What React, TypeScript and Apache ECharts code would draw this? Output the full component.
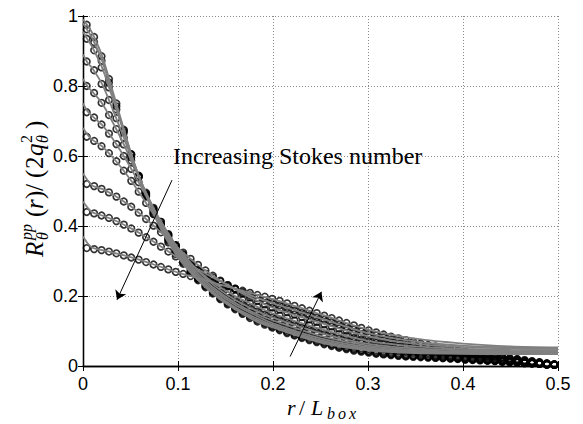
import React, { useEffect, useRef } from "react";
import * as echarts from "echarts";

// bin centres r/L_box of the measured correlation (64 bins)
const rBins = Array.from({ length: 64 }, (_, i) => (i + 0.5) / 128);
// abscissae of the fitted curves
const fitR = [0, 0.005, 0.01, 0.02, 0.03, 0.04, 0.05, 0.06, 0.08, 0.1, 0.12, 0.14, 0.16, 0.18, 0.2, 0.25, 0.3, 0.35, 0.4, 0.45, 0.5];

const xTicks = [0, 0.1, 0.2, 0.3, 0.4, 0.5];
const yTicks = [0, 0.2, 0.4, 0.6, 0.8, 1];

// measured data (circles), lowest Stokes number first
const circlesSt1 = [0.975, 0.94, 0.885, 0.82, 0.75, 0.675, 0.605, 0.54, 0.485, 0.435, 0.392, 0.353, 0.32, 0.292, 0.267, 0.245, 0.225, 0.207, 0.191, 0.176, 0.162, 0.149, 0.137, 0.127, 0.118,
  0.110, 0.102, 0.094, 0.087, 0.080, 0.074, 0.068, 0.062, 0.057, 0.052, 0.048, 0.044, 0.041, 0.038, 0.035, 0.033, 0.031, 0.029, 0.027, 0.026, 0.025, 0.024, 0.023, 0.022, 0.021, 0.020, 0.018, 0.017, 0.016, 0.015, 0.014, 0.012, 0.011, 0.010, 0.008, 0.007, 0.006, 0.004, 0.003];
const circlesSt2 = [0.962, 0.925, 0.872, 0.81, 0.742, 0.672, 0.605, 0.543, 0.488, 0.44, 0.397, 0.358, 0.325, 0.296, 0.27, 0.248, 0.228, 0.21, 0.194, 0.179, 0.165, 0.152, 0.141, 0.131, 0.122,
  0.113, 0.105, 0.097, 0.090, 0.083, 0.077, 0.071, 0.065, 0.060, 0.055, 0.051, 0.047, 0.044, 0.041, 0.037, 0.035, 0.033, 0.031, 0.029, 0.028, 0.027, 0.025, 0.024, 0.023, 0.022, 0.021, 0.019, 0.018, 0.017, 0.016, 0.015, 0.013, 0.011, 0.010, 0.008, 0.007, 0.006, 0.004, 0.003];
const circlesSt3 = [0.935, 0.902, 0.853, 0.796, 0.733, 0.667, 0.603, 0.544, 0.49, 0.443, 0.401, 0.363, 0.33, 0.30, 0.274, 0.251, 0.231, 0.213, 0.197, 0.182, 0.168, 0.156, 0.145, 0.135, 0.125,
  0.117, 0.109, 0.101, 0.094, 0.087, 0.081, 0.075, 0.069, 0.063, 0.058, 0.054, 0.050, 0.046, 0.043, 0.040, 0.038, 0.035, 0.033, 0.031, 0.029, 0.028, 0.027, 0.026, 0.024, 0.023, 0.022, 0.020, 0.019, 0.018, 0.016, 0.015, 0.013, 0.012, 0.011, 0.009, 0.008, 0.006, 0.004, 0.003];
const circlesSt4 = [0.87, 0.845, 0.806, 0.76, 0.708, 0.652, 0.596, 0.542, 0.492, 0.447, 0.406, 0.369, 0.336, 0.306, 0.28, 0.257, 0.237, 0.219, 0.203, 0.188, 0.175, 0.163, 0.152, 0.142, 0.132,
  0.122, 0.115, 0.107, 0.100, 0.093, 0.087, 0.080, 0.074, 0.069, 0.064, 0.059, 0.055, 0.051, 0.048, 0.044, 0.042, 0.039, 0.037, 0.034, 0.032, 0.031, 0.029, 0.028, 0.027, 0.025, 0.024, 0.022, 0.020, 0.019, 0.018, 0.016, 0.014, 0.013, 0.012, 0.009, 0.008, 0.007, 0.005, 0.003];
const circlesSt5 = [0.80, 0.78, 0.752, 0.717, 0.677, 0.633, 0.587, 0.54, 0.495, 0.452, 0.412, 0.375, 0.342, 0.312, 0.286, 0.263, 0.243, 0.225, 0.209, 0.194, 0.181, 0.169, 0.158, 0.148, 0.138,
  0.130, 0.123, 0.115, 0.108, 0.101, 0.095, 0.089, 0.083, 0.077, 0.072, 0.067, 0.062, 0.058, 0.054, 0.050, 0.047, 0.044, 0.042, 0.039, 0.037, 0.035, 0.033, 0.031, 0.030, 0.028, 0.026, 0.024, 0.022, 0.021, 0.019, 0.018, 0.016, 0.014, 0.013, 0.010, 0.009, 0.007, 0.005, 0.004];
const circlesSt6 = [0.725, 0.71, 0.69, 0.664, 0.634, 0.60, 0.563, 0.525, 0.487, 0.449, 0.412, 0.377, 0.345, 0.318, 0.293, 0.271, 0.251, 0.233, 0.217, 0.202, 0.189, 0.177, 0.166, 0.156, 0.147,
  0.139, 0.131, 0.124, 0.117, 0.110, 0.103, 0.097, 0.091, 0.085, 0.079, 0.074, 0.069, 0.065, 0.060, 0.056, 0.053, 0.050, 0.047, 0.043, 0.041, 0.039, 0.037, 0.035, 0.033, 0.030, 0.029, 0.026, 0.024, 0.023, 0.021, 0.019, 0.017, 0.015, 0.014, 0.011, 0.009, 0.008, 0.005, 0.004];
const circlesSt7 = [0.655, 0.643, 0.628, 0.608, 0.585, 0.558, 0.529, 0.498, 0.466, 0.434, 0.403, 0.373, 0.345, 0.319, 0.295, 0.273, 0.254, 0.239, 0.225, 0.212, 0.200, 0.189, 0.179, 0.169, 0.160,
  0.151, 0.144, 0.137, 0.130, 0.123, 0.116, 0.110, 0.103, 0.097, 0.091, 0.086, 0.080, 0.075, 0.070, 0.066, 0.062, 0.058, 0.054, 0.051, 0.048, 0.045, 0.042, 0.040, 0.037, 0.035, 0.033, 0.030, 0.028, 0.026, 0.024, 0.022, 0.019, 0.017, 0.015, 0.013, 0.011, 0.009, 0.006, 0.004];
const circlesSt8 = [0.52, 0.514, 0.506, 0.496, 0.484, 0.47, 0.455, 0.438, 0.42, 0.401, 0.382, 0.362, 0.343, 0.324, 0.306, 0.289, 0.273, 0.258, 0.244, 0.231, 0.219, 0.207, 0.196, 0.186, 0.176,
  0.167, 0.161, 0.154, 0.147, 0.140, 0.133, 0.126, 0.119, 0.113, 0.107, 0.101, 0.094, 0.089, 0.083, 0.078, 0.073, 0.068, 0.064, 0.060, 0.056, 0.052, 0.049, 0.046, 0.043, 0.040, 0.038, 0.035, 0.032, 0.029, 0.027, 0.025, 0.022, 0.019, 0.017, 0.014, 0.012, 0.010, 0.007, 0.004];
const circlesSt9 = [0.44, 0.436, 0.43, 0.423, 0.414, 0.404, 0.393, 0.381, 0.368, 0.355, 0.341, 0.327, 0.313, 0.3, 0.288, 0.276, 0.264, 0.253, 0.242, 0.231, 0.221, 0.211, 0.202, 0.194, 0.187,
  0.180, 0.173, 0.166, 0.159, 0.152, 0.145, 0.139, 0.132, 0.125, 0.118, 0.112, 0.105, 0.099, 0.092, 0.087, 0.081, 0.076, 0.072, 0.067, 0.063, 0.058, 0.055, 0.051, 0.048, 0.044, 0.041, 0.038, 0.035, 0.032, 0.029, 0.027, 0.024, 0.021, 0.019, 0.016, 0.013, 0.010, 0.007, 0.005];
const circlesSt10 = [0.337, 0.334, 0.331, 0.327, 0.322, 0.316, 0.31, 0.304, 0.297, 0.29, 0.283, 0.276, 0.269, 0.263, 0.257, 0.251, 0.245, 0.239, 0.233, 0.227, 0.221, 0.215, 0.209, 0.203, 0.198,
  0.192, 0.186, 0.179, 0.172, 0.165, 0.158, 0.151, 0.144, 0.137, 0.130, 0.123, 0.116, 0.109, 0.102, 0.096, 0.090, 0.084, 0.079, 0.074, 0.069, 0.064, 0.060, 0.056, 0.052, 0.048, 0.045, 0.042, 0.038, 0.035, 0.032, 0.029, 0.026, 0.023, 0.020, 0.017, 0.014, 0.011, 0.008, 0.005];

// fitted model curves (grey lines), sampled at fitR
const fitSt1 = [0.99, 0.972, 0.95, 0.887, 0.797, 0.704, 0.612, 0.531, 0.402, 0.31, 0.248, 0.199, 0.162, 0.131, 0.11, 0.067, 0.045, 0.037, 0.035, 0.034, 0.034];
const fitSt2 = [0.98, 0.958, 0.935, 0.873, 0.787, 0.699, 0.612, 0.534, 0.408, 0.315, 0.251, 0.203, 0.165, 0.135, 0.113, 0.07, 0.047, 0.039, 0.036, 0.035, 0.035];
const fitSt3 = [0.955, 0.932, 0.91, 0.853, 0.775, 0.692, 0.609, 0.534, 0.412, 0.321, 0.254, 0.206, 0.168, 0.14, 0.117, 0.074, 0.05, 0.04, 0.037, 0.036, 0.036];
const fitSt4 = [0.89, 0.866, 0.85, 0.806, 0.742, 0.673, 0.602, 0.533, 0.417, 0.327, 0.26, 0.212, 0.175, 0.147, 0.122, 0.079, 0.054, 0.043, 0.039, 0.038, 0.038];
const fitSt5 = [0.82, 0.798, 0.783, 0.751, 0.703, 0.65, 0.592, 0.532, 0.422, 0.333, 0.266, 0.218, 0.181, 0.152, 0.13, 0.086, 0.058, 0.046, 0.041, 0.04, 0.04];
const fitSt6 = [0.75, 0.727, 0.713, 0.689, 0.654, 0.613, 0.567, 0.518, 0.422, 0.337, 0.274, 0.226, 0.189, 0.161, 0.138, 0.094, 0.063, 0.05, 0.045, 0.043, 0.042];
const fitSt7 = [0.68, 0.66, 0.646, 0.628, 0.6, 0.568, 0.532, 0.492, 0.411, 0.337, 0.276, 0.233, 0.2, 0.174, 0.15, 0.106, 0.072, 0.056, 0.049, 0.046, 0.045];
const fitSt8 = [0.55, 0.53, 0.515, 0.506, 0.492, 0.475, 0.457, 0.435, 0.387, 0.337, 0.291, 0.252, 0.219, 0.191, 0.166, 0.123, 0.085, 0.063, 0.054, 0.05, 0.049];
const fitSt9 = [0.47, 0.452, 0.439, 0.43, 0.42, 0.408, 0.394, 0.379, 0.345, 0.309, 0.278, 0.248, 0.221, 0.198, 0.179, 0.136, 0.094, 0.07, 0.058, 0.053, 0.051];
const fitSt10 = [0.37, 0.35, 0.338, 0.331, 0.325, 0.318, 0.311, 0.303, 0.285, 0.267, 0.252, 0.236, 0.221, 0.206, 0.191, 0.148, 0.104, 0.078, 0.064, 0.056, 0.053];

const circleSets = [circlesSt1, circlesSt2, circlesSt3, circlesSt4, circlesSt5, circlesSt6, circlesSt7, circlesSt8, circlesSt9, circlesSt10];
const fitSets = [fitSt1, fitSt2, fitSt3, fitSt4, fitSt5, fitSt6, fitSt7, fitSt8, fitSt9, fitSt10];

// annotation arrows: [start, end] in data coordinates
const arrowDown = [[0.0937, 0.531], [0.0358, 0.189]];
const arrowUp = [[0.218, 0.027], [0.251, 0.212]];
const annotationText = "Increasing Stokes number";

const SERIF = '"Liberation Serif", "Times New Roman", serif';
const SANS = '"Liberation Sans", Arial, Helvetica, sans-serif';

function txt(text: string, x: number, baseline: number, size: number, italic = true) {
  return {
    type: "text",
    x,
    y: baseline - 0.34 * size,
    silent: true,
    style: {
      text,
      fontSize: size,
      fontFamily: SERIF,
      fontStyle: italic ? "italic" : "normal",
      fill: "#000",
      align: "left",
      textAlign: "left",
      verticalAlign: "middle",
      textVerticalAlign: "middle",
    },
  };
}

export default function App() {
  const ref = useRef<HTMLDivElement>(null);
  useEffect(() => {
    if (!ref.current) return;
    const chart = echarts.init(ref.current, undefined, { renderer: "svg" });

    const scatterSeries = circleSets.map((vals, k) => ({
      type: "scatter",
      name: "data" + (k + 1),
      data: vals.map((v, i) => [rBins[i], v]),
      symbol: "circle",
      symbolSize: 6.5,
      itemStyle: { color: "rgba(0,0,0,0)", borderColor: "#000", borderWidth: 1.7 },
      silent: true,
      z: 2,
    }));
    const lineSeries = fitSets.map((vals, k) => ({
      type: "line",
      name: "fit" + (k + 1),
      data: vals.map((v, i) => [fitR[i], v]),
      showSymbol: false,
      symbol: "none",
      smooth: 0.3,
      lineStyle: { color: "#808080", width: 1.8 },
      silent: true,
      z: 3,
    }));

    const axisCommon = {
      axisLine: { show: true, lineStyle: { color: "#000", width: 1.3 } },
      axisTick: { show: true, inside: true, length: 5, lineStyle: { color: "#000", width: 1 } },
    };

    chart.setOption({
      animation: false,
      backgroundColor: "#fff",
      grid: { left: 83, right: 25, top: 16, bottom: 58, show: false },
      xAxis: [
        {
          type: "value",
          min: xTicks[0],
          max: xTicks[xTicks.length - 1],
          interval: 0.1,
          position: "bottom",
          ...axisCommon,
          axisLabel: { color: "#000", fontSize: 18, fontFamily: SANS, margin: 9 },
          splitLine: { show: true, lineStyle: { color: "#8a8a8a", width: 1, type: [1, 2] } },
        },
        {
          type: "value",
          min: xTicks[0],
          max: xTicks[xTicks.length - 1],
          interval: 0.1,
          position: "top",
          ...axisCommon,
          axisLabel: { show: false },
          splitLine: { show: false },
        },
      ],
      yAxis: [
        {
          type: "value",
          min: yTicks[0],
          max: yTicks[yTicks.length - 1],
          interval: 0.2,
          position: "left",
          ...axisCommon,
          axisLabel: { color: "#000", fontSize: 18, fontFamily: SANS, margin: 5 },
          splitLine: { show: true, lineStyle: { color: "#8a8a8a", width: 1, type: [1, 2] } },
        },
        {
          type: "value",
          min: yTicks[0],
          max: yTicks[yTicks.length - 1],
          interval: 0.2,
          position: "right",
          ...axisCommon,
          axisLabel: { show: false },
          splitLine: { show: false },
        },
      ],
      series: [
        ...scatterSeries,
        ...lineSeries,
        {
          type: "line",
          name: "annotations",
          data: [[0, 0]],
          showSymbol: false,
          symbol: "none",
          lineStyle: { opacity: 0 },
          silent: true,
          z: 4,
          markLine: {
            silent: true,
            symbol: ["none", "arrow"],
            symbolSize: 9,
            label: { show: false },
            emphasis: { disabled: true },
            lineStyle: { color: "#000", width: 1, type: "solid" },
            data: [
              [{ coord: arrowDown[0] }, { coord: arrowDown[1] }],
              [{ coord: arrowUp[0] }, { coord: arrowUp[1] }],
            ],
          },
        },
      ],
      graphic: [
        {
          type: "text",
          x: 173,
          y: 156,
          silent: true,
          z: 10,
          style: {
            text: annotationText,
            fontSize: 24,
            fontFamily: SERIF,
            fill: "#000",
            align: "left",
            textAlign: "left",
            verticalAlign: "middle",
            textVerticalAlign: "middle",
          },
        },
        // x-axis label r / L_box
        txt("r", 287, 415, 22),
        txt("/", 299, 415, 22, false),
        txt("L", 311, 415, 22),
        txt("b", 327, 419, 16),
        txt("o", 338, 419, 16),
        txt("x", 349, 419, 16),
        // y-axis label R_θ^pp(r)/(2 q_θ^2), rotated
        {
          type: "group",
          x: 43,
          y: 257,
          rotation: Math.PI / 2,
          silent: true,
          children: [
            txt("R", 0, 0, 25),
            txt("θ", 17, 5, 16),
            txt("pp", 17, -11, 16),
            txt("(", 40, 0, 25, false),
            txt("r", 48, 0, 25),
            txt(")", 58, 0, 25, false),
            txt("/", 66, 0, 25, false),
            txt("(", 79, 0, 25, false),
            txt("2", 88, 0, 25, false),
            txt("q", 101, 0, 25),
            txt("2", 114, -11, 16, false),
            txt("θ", 114, 5, 16),
            txt(")", 128, 0, 25, false),
          ],
        },
      ],
    });
    return () => chart.dispose();
  }, []);
  return (
    <div
      ref={ref}
      style={{ position: "absolute", left: 0, top: 0, width: 583, height: 424, background: "#fff" }}
    />
  );
}
